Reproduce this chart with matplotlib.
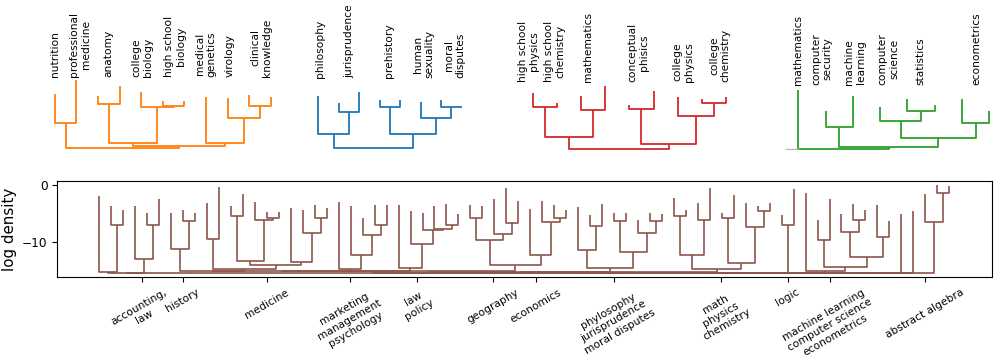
import matplotlib
matplotlib.use("Agg")
import matplotlib.pyplot as plt

# ---------------------------------------------------------------- data
# A tree is either a leaf (its top height) or (merge_height, left, right).

# --- top dendrograms (heights in arbitrary units, larger = higher)
orange_tree = (1.7,
               (26.7, 56, 70),
               (4.3,
                (7.3, (45.7, 54.3, 64), (43.3, 57.7, (44, 49.3, 49.3))),
                (7.3, 53.3, (32.3, 51.7, (44, 55, 53.3)))))
orange_labels = ["nutrition", "professional\nmedicine", "anatomy", "college\nbiology",
                 "high school\nbiology", "medical\ngenetics", "virology", "clinical\nknowledge"]
orange_label_x = [0.0, 1.17, 2.47, 4.03, 5.57, 7.0, 8.1, 9.55]

blue_tree = (1.7,
             (16, 54.3, (37.7, 47.3, 57.7)),
             (15.7, (42.7, 50, 50), (31.7, 48.3, (42.7, 50, 43.3))))
blue_labels = ["philosophy", "jurisprudence", "prehistory", "human\nsexuality", "moral\ndisputes"]
blue_label_x = [0.08, 1.51, 3.47, 5.14, 6.67]

red_tree = (0.7,
            (13.3, (42.7, 56.7, 47.3), (40, 54, 64)),
            (6, (41, 45, 59.3), (34, 53.3, (46.7, 50.7, 53.3))))
red_labels = ["high school\nphysics", "high school\nchemistry", "mathematics",
              "conceptual\nphisics", "college\nphysics", "college\nchemistry"]
red_label_x = [-0.18, 0.92, 2.3, 4.37, 6.21, 7.75]

green_tree = (0.7, 60,
              (3.3, (23.3, 39.3, 54.3),
               (11.7, (29.3, 43.3, (39, 51, 45)), (26.7, 50.7, 39))))
green_labels = ["mathematics", "computer\nsecurity", "machine\nlearning",
                "computer\nscience", "statistics", "econometrics"]
green_label_x = [0.0, 0.86, 2.07, 3.3, 4.46, 6.54]
green_stub = 0.45   # grey link leaving the green root to the left (leaf units)

# --- bottom dendrogram (log density)
leaf_a = -2.0
cl_b = (-7.1, -3.8, -4.4)
cl_c = (-13.05, -3.8, (-7.1, -4.9, -2.4))
cl_d = (-11.3, -4.9, (-6.4, -4.4, -4.9))
cl_e = (-9.6, -3.2, -0.4)
cl_f = (-13.5, (-5.5, -3.8, -1.6), (-6.2, -3.06, (-5.8, -4.8, -4.8)))
cl_g = (-13.6, -4.0, (-8.4, -4.4, (-5.9, -3.6, -4.0)))
cl_h = (-14.8, -3.06, (-12.3, -3.77, (-8.9, -5.9, (-7.1, -3.6, -3.6))))
cl_i = (-14.6, -3.47, (-10.35, -4.6, (-8.0, -4.9, (-7.7, -3.8, (-7.1, -3.35, -5.2)))))
cl_j = (-9.7, (-5.9, -3.47, -3.77), (-8.6, -2.5, (-6.75, -0.5, -2.8)))
cl_k = (-12.4, -4.3, (-6.6, -2.9, (-5.8, -3.6, -4.4)))
cl_l = (-14.6, (-11.5, -3.9, (-7.25, -5.3, -3.4)),
        (-11.75, (-6.4, -5.0, -5.0), (-8.5, -6.2, (-6.3, -5.0, -5.2))))
cl_m = (-14.9, (-12.3, (-5.5, -2.3, -4.5), (-6.1, -3.2, -0.5)),
        (-13.75, (-5.9, -4.9, -1.8), (-7.45, -3.2, (-4.6, -3.8, -3.2))))
cl_n = (-7.1, -5.35, -0.8)
cl_o = (-15.1, -1.4, (-14.5, (-9.8, -6.1, -2.4),
                      (-12.75, (-8.3, -5.1, (-6.1, -3.3, -4.5)), (-9.2, -3.5, -6.3))))
leaf_p = -5.1
leaf_q = -4.65
cl_r = (-6.5, -1.6, (-1.4, 0.05, -0.23))

fg_height = -14.2
efg_height = -14.9
jk_height = -14.1
mid_heights = [-15.20, -15.22, -15.24, -15.26, -15.28, -15.30]
root_heights = [-15.45, -15.48, -15.50, -15.52, -15.54, -15.56, -15.58, -15.60]

tick_pos = [3.54, 6.97, 13.99, 20.94, 26.52, 32.92, 36.48, 43.0, 51.94, 57.51, 61.04, 68.98]
tick_labels = ["accounting,\nlaw", "history", "medicine", "marketing\nmanagement\npsychology",
               "law\npolicy", "geography", "economics",
               "phylosophy\njurisprudence\nmoral disputes", "math\nphysics\nchemistry", "logic",
               "machine learning\ncomputer science\neconometrics", "abstract algebra"]
ytick_vals = [-10, 0]


# ---------------------------------------------------------------- helpers
def chain(items, heights):
    node = items[0]
    for it, h in zip(items[1:], heights):
        node = (h, node, it)
    return node


def layout(tree, counter, segs):
    if not isinstance(tree, tuple):
        x = counter[0]
        counter[0] += 1
        return x, tree
    h, l, r = tree
    lx, lh = layout(l, counter, segs)
    rx, rh = layout(r, counter, segs)
    segs.append(([lx, lx, rx, rx], [lh, h, h, rh]))
    return (lx + rx) / 2.0, h


def draw_tree(ax, tree, color, lw):
    segs = []
    counter = [0]
    rx, rh = layout(tree, counter, segs)
    for xs, ys in segs:
        ax.plot(xs, ys, color=color, lw=lw, solid_capstyle="butt")
    return counter[0]


# ---------------------------------------------------------------- figure
W, H = 1000, 361
fig = plt.figure(figsize=(W / 100, H / 100), dpi=100)

lab_fs = 7.7
top_groups = [
    # tree, colour, labels, label x, first-leaf px, leaf spacing px, label base
    (orange_tree, "#ff7f0e", orange_labels, orange_label_x, 54.7, 21.6, 11, 73),
    (blue_tree, "#1f77b4", blue_labels, blue_label_x, 318.3, 20.49, 8, 72),
    (red_tree, "#d62728", red_labels, red_label_x, 532.7, 24.16, 9, 68),
    (green_tree, "#2ca02c", green_labels, green_label_x, 798.3, 27.29, 8, 65),
]
for tree, col, labels, lx, p0, s, n, base in top_groups:
    left = (p0 - 0.6 * s) / W
    ax = fig.add_axes([left, (H - 150) / H, n * s / W, 150 / H])
    draw_tree(ax, tree, col, 1.3)
    for x, t in zip(lx, labels):
        ax.text(x, base, t, rotation=90, ha="center", va="bottom", fontsize=lab_fs)
    ax.set_xlim(-0.6, n - 0.6)
    ax.set_ylim(0, 150)
    ax.axis("off")
    if col == "#2ca02c":
        ax.plot([-green_stub, 0], [tree[0], tree[0]], color="#b5b5b5", lw=1.0)

# bottom dendrogram
efg = (efg_height, cl_e, (fg_height, cl_f, cl_g))
jk = (jk_height, cl_j, cl_k)
mid = chain([cl_d, efg, cl_h, cl_i, jk, cl_l, cl_m], mid_heights)
full = chain([leaf_a, cl_b, cl_c, mid, cl_n, cl_o, leaf_p, leaf_q, cl_r], root_heights)

axb = fig.add_axes([57.3 / W, (H - 277.3) / H, 934.4 / W, 96.3 / H])
draw_tree(axb, full, "#8c564b", 1.2)
axb.set_xlim(-3.51, 74.55)
axb.set_ylim(-16.3, 0.7)
axb.set_yticks(ytick_vals)
axb.set_yticklabels(["\u221210", "0"], fontsize=8.7)
axb.set_xticks(tick_pos)
axb.set_xticklabels(tick_labels, rotation=30, fontsize=lab_fs)
axb.set_ylabel("log density", fontsize=10.8)

fig.savefig("out.png", dpi=100)
